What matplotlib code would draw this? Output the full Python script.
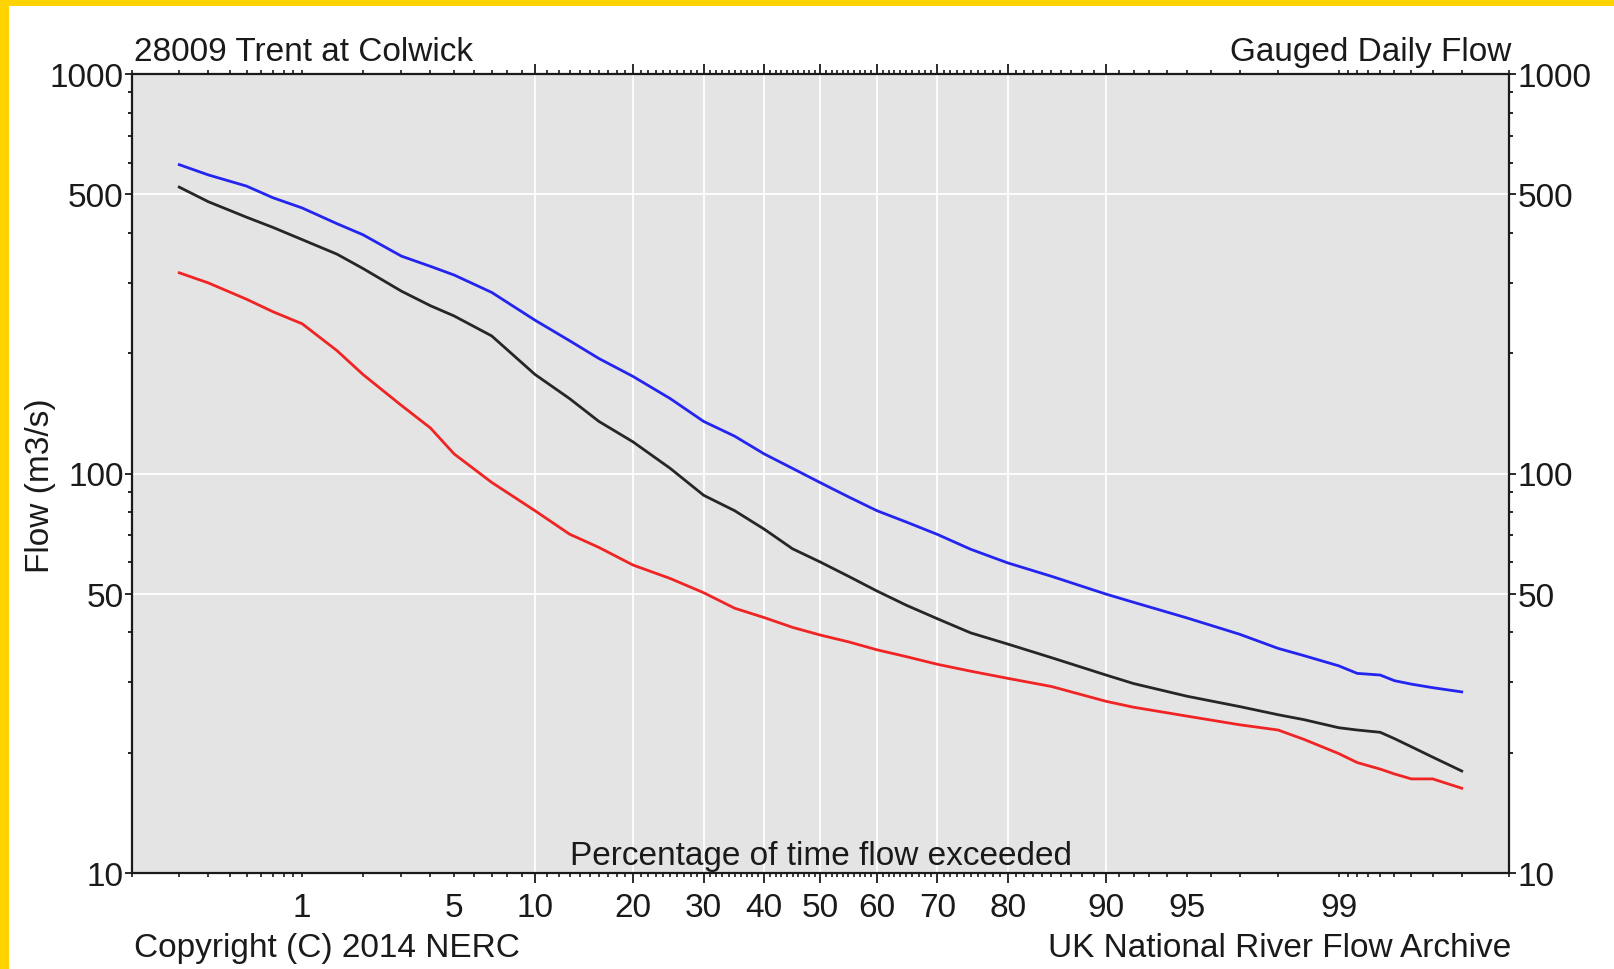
#!/usr/bin/env python3
"""
Flow duration curve for 28009 Trent at Colwick (gauged daily flow),
drawn on a normal-probability x axis and a log flow axis.
"""
import matplotlib
matplotlib.use('Agg')  # Use non-interactive backend
import matplotlib.pyplot as plt
from matplotlib.patches import Rectangle
from matplotlib.ticker import FixedLocator, FuncFormatter, NullFormatter
import numpy as np
from statistics import NormalDist

plt.rcParams['font.family'] = ['Liberation Sans', 'DejaVu Sans']

# Percentage of time flow exceeded
pct = [0.2, 0.3, 0.5, 0.7, 1, 1.5, 2, 3, 4, 5, 7, 10, 13, 16, 20, 25, 30, 35,
       40, 45, 50, 55, 60, 65, 70, 75, 80, 85, 90, 92, 95, 97, 98, 98.5, 99,
       99.2, 99.4, 99.5, 99.6, 99.7, 99.8]

# Flow (m3/s)
flow_blue = [593, 559, 524, 490, 462, 422, 396, 350, 330, 314, 284, 242, 215,
             194, 175, 154, 135, 124, 112, 103, 94.8, 87.4, 80.7, 75.6, 70.4,
             64.6, 59.7, 55.3, 49.9, 47.6, 43.5, 39.6, 36.5, 35.0, 33.0, 31.6,
             31.3, 30.3, 29.7, 29.1, 28.4]
flow_black = [521, 479, 438, 413, 385, 354, 326, 286, 263, 248, 221, 177, 154,
              135, 120, 103, 88.2, 80.7, 72.6, 64.8, 60.0, 55.3, 50.8, 46.8,
              43.3, 39.9, 37.4, 34.6, 31.3, 29.8, 27.7, 26.1, 24.9, 24.2, 23.1,
              22.8, 22.5, 21.7, 20.7, 19.5, 18.0]
flow_red = [318, 300, 273, 254, 237, 203, 177, 148, 130, 112, 95, 80.7, 70.5,
            65.3, 59.0, 54.6, 50.3, 46.0, 43.6, 41.2, 39.4, 37.9, 36.2, 34.8,
            33.3, 32.0, 30.7, 29.3, 26.9, 26.0, 24.7, 23.5, 22.8, 21.6, 19.9,
            18.9, 18.2, 17.7, 17.2, 17.2, 16.3]

# Axis ticks
x_long = [10, 20, 30, 40, 50, 60, 70, 80, 90]
x_short_labelled = [1, 5, 95, 99]
x_minor = ([round(0.1 * i, 1) for i in range(1, 10)] + [2, 3, 4, 6, 7, 8, 9]
           + [v for v in range(11, 90) if v % 10] + [91, 92, 93, 94, 96, 97, 98]
           + [round(99 + 0.1 * i, 1) for i in range(1, 10)])
y_major = [10, 50, 100, 500, 1000]
y_minor = [20, 30, 40, 60, 70, 80, 90, 200, 300, 400, 600, 700, 800, 900]
y_grid = [50, 100, 500]
x_grid = x_long

_nd = NormalDist()


def to_z(p):
    p = np.clip(np.asarray(p, dtype=float), 1e-4, 100 - 1e-4)
    return np.vectorize(lambda v: _nd.inv_cdf(v / 100.0), otypes=[float])(p)


def to_pct(z):
    z = np.asarray(z, dtype=float)
    return np.vectorize(lambda v: _nd.cdf(v) * 100.0, otypes=[float])(z)


W, H = 1614, 970
fig = plt.figure(figsize=(W / 100, H / 100), dpi=100, facecolor='white')

# yellow frame on the top and left edges
fig.patches.append(Rectangle((0, 1 - 7 / H), 1, 7 / H, transform=fig.transFigure,
                             facecolor='#FFD300', edgecolor='none', zorder=0))
fig.patches.append(Rectangle((0, 0), 9 / W, 1, transform=fig.transFigure,
                             facecolor='#FFD300', edgecolor='none', zorder=0))

ax = fig.add_axes([132 / W, 1 - 874 / H, (1509 - 132) / W, (874 - 75) / H])
ax.set_facecolor('#E4E4E4')
ax.set_xscale('function', functions=(to_z, to_pct))
ax.set_yscale('log')
ax.set_xlim(0.1, 99.9)
ax.set_ylim(10, 1000)

for v in x_grid:
    ax.axvline(v, color='white', lw=1.3, zorder=1)
for v in y_grid:
    ax.axhline(v, color='white', lw=1.3, zorder=1)

ax.plot(pct, flow_blue, color='#2424F0', lw=2.0, zorder=3)
ax.plot(pct, flow_black, color='#262626', lw=2.0, zorder=3)
ax.plot(pct, flow_red, color='#F02424', lw=2.0, zorder=3)

# x axis: long ticks 10..90, short labelled ticks at 1, 5, 95, 99
ax.xaxis.set_major_locator(FixedLocator(x_long))
ax.xaxis.set_major_formatter(FuncFormatter(lambda v, _: f"{v:g}"))
ax.xaxis.set_minor_locator(FixedLocator(sorted(x_minor + x_short_labelled)))
ax.xaxis.set_minor_formatter(
    FuncFormatter(lambda v, _: f"{v:g}" if round(v, 1) in x_short_labelled else ""))
ax.tick_params(axis='x', which='major', direction='out', length=7, width=1.3,
               pad=6.5, labelsize=24, top=True, bottom=True, colors='#1a1a1a')
ax.tick_params(axis='x', which='minor', direction='out', length=3, width=1.2,
               pad=6.5 + 4, labelsize=24, top=True, bottom=True, colors='#1a1a1a')

# y axis
ax.yaxis.set_major_locator(FixedLocator(y_major))
ax.yaxis.set_major_formatter(FuncFormatter(lambda v, _: f"{v:g}"))
ax.yaxis.set_minor_locator(FixedLocator(y_minor))
ax.yaxis.set_minor_formatter(NullFormatter())
ax.tick_params(axis='y', which='major', direction='out', length=5, width=1.3,
               pad=1, labelsize=24, left=True, right=True, labelright=True,
               colors='#1a1a1a')
ax.tick_params(axis='y', which='minor', direction='out', length=3, width=1.2,
               left=True, right=True)

for spine in ax.spines.values():
    spine.set_linewidth(1.6)
    spine.set_color('#1a1a1a')

txt = dict(fontsize=24, color='#1a1a1a')
ax.text(0.5, 0.011, 'Percentage of time flow exceeded', transform=ax.transAxes,
        ha='center', va='baseline', **txt)
fig.text(134 / W, 1 - 61 / H, '28009 Trent at Colwick', ha='left',
         va='baseline', **txt)
fig.text(1511 / W, 1 - 61 / H, 'Gauged Daily Flow', ha='right',
         va='baseline', **txt)
fig.text(134 / W, 1 - 957 / H, 'Copyright (C) 2014 NERC', ha='left',
         va='baseline', **txt)
fig.text(1511 / W, 1 - 957 / H, 'UK National River Flow Archive', ha='right',
         va='baseline', **txt)
fig.text(41 / W, 1 - 486 / H, 'Flow (m3/s)', rotation=90, ha='center',
         va='center', **txt)

fig.savefig('out.png', dpi=100, facecolor='white')
plt.close(fig)
